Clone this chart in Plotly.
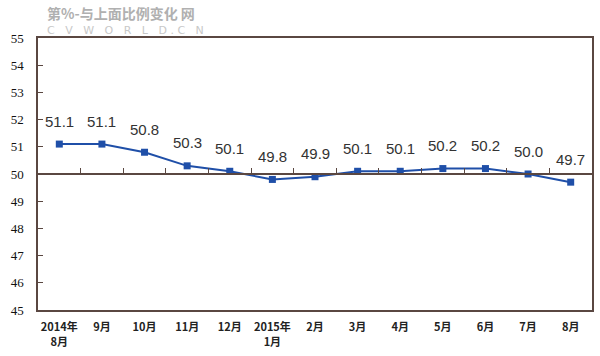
import plotly.graph_objects as go

months_top = ["2014年", "9月", "10月", "11月", "12月", "2015年", "2月",
              "3月", "4月", "5月", "6月", "7月", "8月"]
months_bottom = ["8月", "", "", "", "", "1月", "", "", "", "", "", "", ""]
pmi = [51.1, 51.1, 50.8, 50.3, 50.1, 49.8, 49.9, 50.1, 50.1, 50.2, 50.2, 50.0, 49.7]
y_ticks = [45, 46, 47, 48, 49, 50, 51, 52, 53, 54, 55]

idx = list(range(len(months_top)))
frame = "#5a4741"
blue = "#1f4fa8"
xr = [-0.5, len(idx) - 0.5]
xfont = dict(family="Noto Sans CJK SC", size=11, color="#222222", weight="bold")

fig = go.Figure()
fig.add_trace(go.Scatter(
    x=idx, y=pmi, mode="lines+markers",
    line=dict(color=blue, width=2),
    marker=dict(symbol="square", size=7, color=blue),
    showlegend=False, hoverinfo="skip"))
# invisible traces for the extra axes
fig.add_trace(go.Scatter(x=[idx[0]], y=[50], xaxis="x2", mode="markers",
                         marker=dict(opacity=0), showlegend=False, hoverinfo="skip"))
fig.add_trace(go.Scatter(x=[idx[0]], y=[50], xaxis="x3", mode="markers",
                         marker=dict(opacity=0), showlegend=False, hoverinfo="skip"))

for i, v in zip(idx, pmi):
    fig.add_annotation(x=i, y=v, text=f"{v:.1f}", showarrow=False, yshift=23,
                       font=dict(family="Liberation Sans, Arial", size=15, color="#333333"))

# watermark
fig.add_annotation(xref="paper", yref="paper", x=0.012, y=1.0, yshift=25, xanchor="left",
                   yanchor="middle",
                   text="<b>第%-与上面比例变化 网</b>", showarrow=False,
                   font=dict(family="Noto Sans CJK SC", size=14, color="#b0b0b0"))
fig.add_annotation(xref="paper", yref="paper", x=0.012, y=1.0, yshift=8, xanchor="left",
                   yanchor="middle",
                   text="C   V   W   O   R   L   D . C   N", showarrow=False,
                   font=dict(family="DejaVu Sans", size=11, color="#c8c8c8"))

fig.update_layout(
    width=600, height=356,
    margin=dict(l=38, r=8, t=38, b=46, autoexpand=False),
    paper_bgcolor="white", plot_bgcolor="white",
    xaxis=dict(range=xr, tickmode="array", tickvals=idx,
               ticktext=months_top, showgrid=False, zeroline=False, automargin=False,
               showline=True, mirror=True, linecolor=frame, linewidth=1.5,
               ticks="", ticklabelstandoff=6, tickfont=xfont),
    xaxis2=dict(range=xr, overlaying="x", anchor="free",
                position=0.5, side="bottom", tickmode="array", automargin=False,
                tickvals=[i + 0.5 for i in idx[:-1]], showticklabels=False,
                ticks="inside", ticklen=5, tickcolor=frame, tickwidth=1,
                showline=True, linecolor=frame, linewidth=1.5,
                showgrid=False, zeroline=False),
    xaxis3=dict(range=xr, overlaying="x", anchor="y", side="bottom",
                tickmode="array", tickvals=idx, ticktext=months_bottom,
                automargin=False, showline=False, showgrid=False, zeroline=False,
                ticks="", ticklabelstandoff=24, tickfont=xfont),
    yaxis=dict(range=[45, 55], tickmode="array", tickvals=y_ticks, automargin=False,
               showgrid=False, zeroline=False, showline=True, mirror=True,
               linecolor=frame, linewidth=1.5, ticks="inside", ticklen=5,
               tickcolor=frame, ticklabelstandoff=10,
               tickfont=dict(family="Liberation Serif", size=13, color="#111111")),
)

fig.write_html("out.html", config={"displayModeBar": False},
               post_script="document.body.style.margin='0';")
